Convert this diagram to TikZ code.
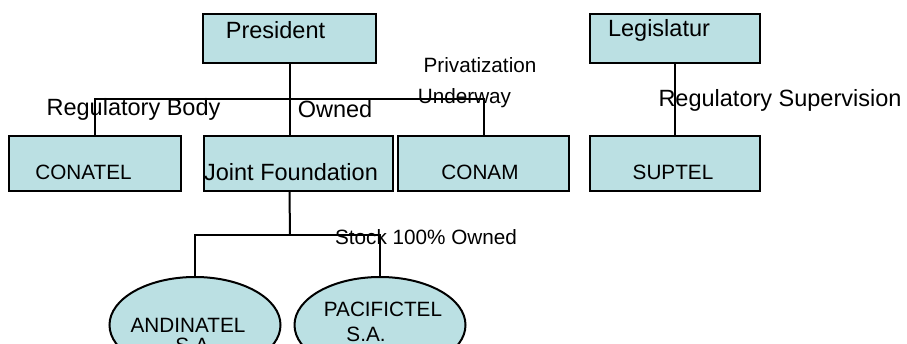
\documentclass[tikz,border=0pt]{standalone}
\usepackage{fontspec}
\setmainfont{Liberation Sans}
\usetikzlibrary{shapes.geometric}
\definecolor{boxfill}{RGB}{187,224,227}
\tikzset{
  box/.style={draw=black, line width=2pt, fill=boxfill, rectangle, inner sep=0pt},
  oval/.style={draw=black, line width=2pt, fill=boxfill, ellipse, inner sep=0pt, minimum width=171pt, minimum height=96pt},
  conn/.style={draw=black, line width=2pt},
  big/.style={inner sep=0pt, font=\fontsize{23.5}{28}\selectfont},
  small/.style={inner sep=0pt, font=\fontsize{20.7}{25}\selectfont},
}
\begin{document}
\begin{tikzpicture}[x=1pt,y=-1pt]
\useasboundingbox (0,0) rectangle (907,344);
\clip (0,0) rectangle (907,344);
% boxes
\node[box, minimum width=173pt, minimum height=49pt] (pres) at (289.5,38.5) {};
\node[box, minimum width=170pt, minimum height=49pt] (leg) at (675,38.5) {};
\node[box, minimum width=172pt, minimum height=55pt] (conatel) at (95,163.5) {};
\node[box, minimum width=189pt, minimum height=55pt] (jf) at (298.5,163.5) {};
\node[box, minimum width=171pt, minimum height=55pt] (conam) at (483.5,163.5) {};
\node[box, minimum width=170pt, minimum height=55pt] (suptel) at (675,163.5) {};
\node[oval] (andi) at (195,325) {};
\node[oval] (paci) at (380,325) {};
% connector coordinates
\coordinate (busL) at (96,99);
\coordinate (busR) at (484,99);
\coordinate (bus2) at (290,235);
% connectors
\draw[conn] (pres.south) -- (pres.south |- jf.north);
\draw[conn] (conatel.north) -- (conatel.north |- busL) -- (conam.north |- busR) -- (conam.north);
\draw[conn] (leg.south) -- (leg.south |- suptel.north);
\draw[conn] (pres.south |- jf.south) -- (bus2);
\draw[conn] (andi.north) -- (andi.north |- bus2) -- (paci.north |- bus2) -- (paci.north);
% texts
\node[big] (tpres) at (275.5,30) {President};
\node[big] (tleg) at (659,30) {Legislatur};
\node[small] (tpriv) at (480,65) {Privatization};
\node[small] (tunder) at (464.5,98) {Underway};
\node[big] (tregb) at (133.5,109) {Regulatory Body};
\node[big] (towned) at (335,109) {Owned};
\node[big] (tregs) at (780,100) {Regulatory Supervision};
\node[small] (tconatel) at (83.5,172) {CONATEL};
\node[big] (tjf) at (291,172) {Joint Foundation};
\node[small] (tconam) at (480,172) {CONAM};
\node[small] (tsuptel) at (673,172) {SUPTEL};
\node[small] (tstock) at (426,237) {Stock 100\% Owned};
\node[small] (tandi) at (188,325) {ANDINATEL};
\node[small] (tandisa) at (195,345) {S.A.};
\node[small] (tpaci) at (383,309) {PACIFICTEL};
\node[small] (tpacisa) at (366,334) {S.A.};
\end{tikzpicture}
\end{document}
